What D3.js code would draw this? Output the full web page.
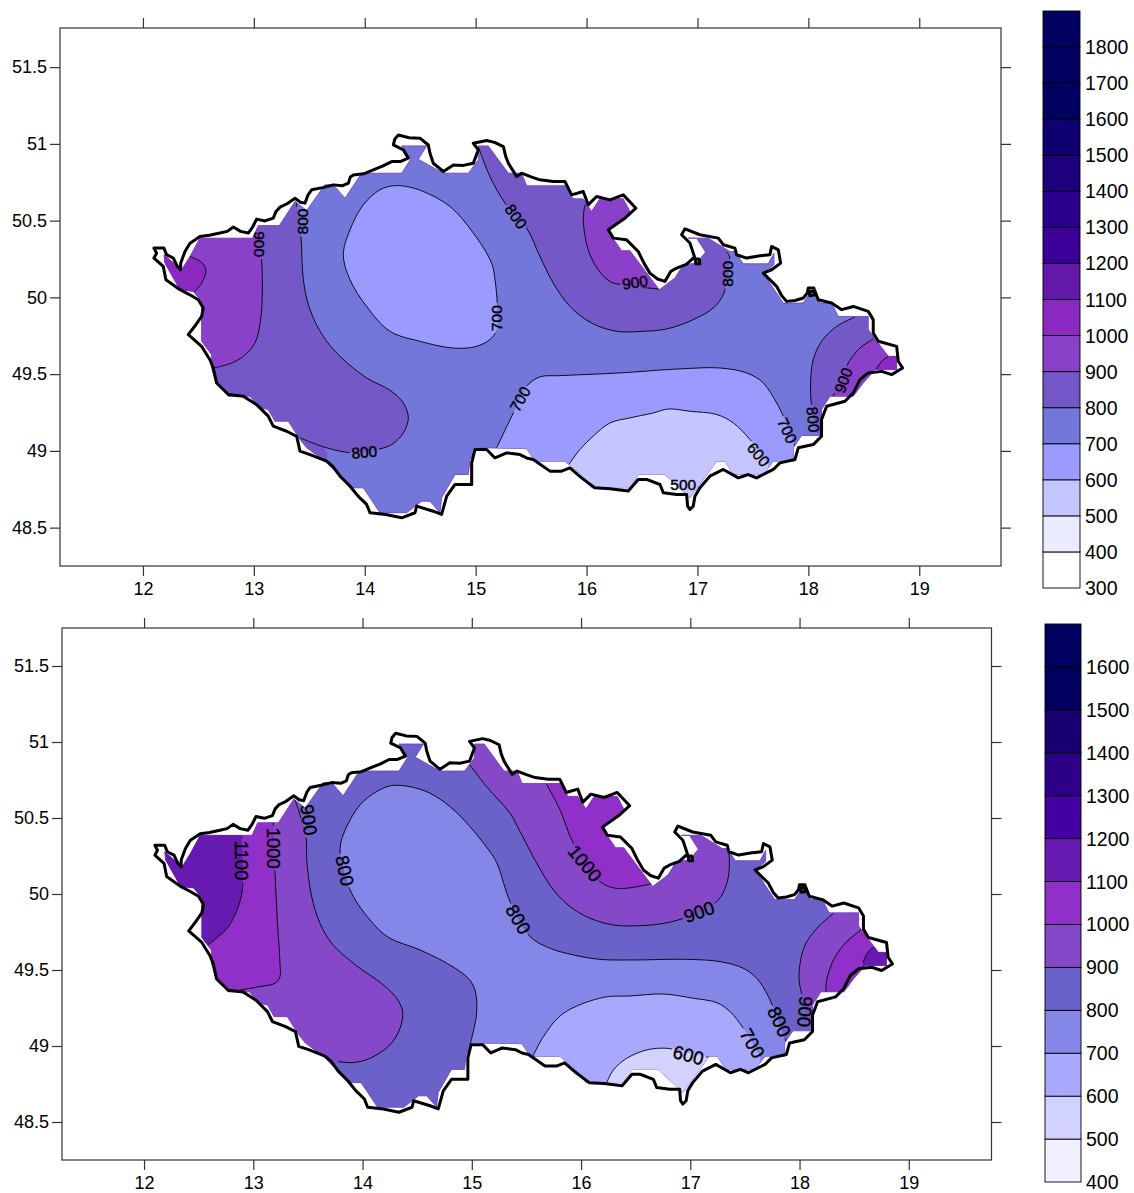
<!DOCTYPE html>
<html><head><meta charset="utf-8">
<script src="https://cdn.jsdelivr.net/npm/d3@7"></script>
<style>html,body{margin:0;padding:0;background:#fff}svg{display:block}text{font-family:"Liberation Sans",Arial,sans-serif;fill:#000}</style>
</head><body><svg id="c" width="1134" height="1193"></svg>
<script>
// Geographic outline of the country, [lon, lat]
const border=[[12.099,50.321],[12.189,50.321],[12.213,50.278],[12.274,50.256],[12.310,50.202],[12.340,50.180],[12.340,50.223],[12.379,50.299],[12.424,50.353],[12.514,50.397],[12.600,50.405],[12.694,50.419],[12.760,50.430],[12.815,50.458],[12.880,50.430],[12.950,50.419],[12.990,50.460],[13.025,50.510],[13.100,50.498],[13.175,50.516],[13.200,50.560],[13.236,50.588],[13.300,50.610],[13.371,50.646],[13.420,50.620],[13.461,50.614],[13.490,50.670],[13.521,50.701],[13.620,50.715],[13.717,50.733],[13.800,50.728],[13.852,50.744],[13.870,50.785],[13.897,50.798],[13.990,50.805],[14.077,50.831],[14.160,50.855],[14.243,50.885],[14.320,50.885],[14.393,50.907],[14.348,50.961],[14.258,50.993],[14.270,51.030],[14.303,51.058],[14.400,51.040],[14.498,51.037],[14.573,50.993],[14.588,50.939],[14.618,50.874],[14.709,50.820],[14.799,50.863],[14.890,50.860],[14.979,50.874],[15.024,50.961],[14.979,51.004],[15.099,51.022],[15.170,51.010],[15.250,50.982],[15.270,50.920],[15.295,50.874],[15.370,50.787],[15.414,50.809],[15.500,50.785],[15.579,50.766],[15.700,50.755],[15.805,50.755],[15.865,50.668],[15.970,50.690],[16.015,50.603],[16.090,50.657],[16.211,50.635],[16.331,50.668],[16.445,50.581],[16.346,50.516],[16.196,50.440],[16.241,50.386],[16.361,50.375],[16.466,50.299],[16.520,50.220],[16.571,50.158],[16.640,50.120],[16.707,50.104],[16.760,50.170],[16.812,50.191],[16.900,50.215],[16.962,50.256],[17.016,50.249],[17.022,50.219],[16.986,50.219],[16.977,50.256],[16.932,50.354],[16.857,50.408],[16.887,50.447],[17.022,50.408],[17.188,50.386],[17.233,50.343],[17.338,50.321],[17.353,50.278],[17.443,50.256],[17.550,50.270],[17.653,50.278],[17.669,50.332],[17.729,50.310],[17.750,50.223],[17.669,50.180],[17.593,50.158],[17.714,50.072],[17.760,50.010],[17.804,49.974],[17.880,49.980],[17.954,49.996],[17.990,50.028],[17.999,50.061],[18.050,50.061],[18.059,50.017],[18.014,50.011],[18.008,50.039],[18.059,50.043],[18.089,49.985],[18.210,49.963],[18.300,49.920],[18.405,49.941],[18.540,49.909],[18.585,49.855],[18.585,49.768],[18.630,49.714],[18.796,49.681],[18.811,49.584],[18.850,49.540],[18.751,49.497],[18.661,49.518],[18.540,49.508],[18.465,49.464],[18.405,49.378],[18.330,49.323],[18.165,49.291],[18.119,49.204],[18.119,49.095],[18.044,49.041],[17.909,49.020],[17.879,48.944],[17.744,48.922],[17.684,48.879],[17.533,48.824],[17.458,48.846],[17.368,48.824],[17.233,48.879],[17.112,48.835],[17.022,48.759],[16.977,48.705],[16.962,48.640],[16.932,48.618],[16.911,48.640],[16.902,48.716],[16.812,48.716],[16.692,48.727],[16.662,48.781],[16.541,48.814],[16.466,48.814],[16.376,48.738],[16.211,48.753],[16.075,48.759],[15.955,48.824],[15.850,48.889],[15.775,48.868],[15.670,48.868],[15.519,48.944],[15.460,48.954],[15.399,48.976],[15.280,48.987],[15.174,48.954],[15.099,49.009],[14.994,49.009],[14.964,48.922],[14.964,48.781],[14.814,48.781],[14.739,48.705],[14.693,48.586],[14.618,48.607],[14.468,48.640],[14.453,48.597],[14.333,48.564],[14.190,48.585],[14.047,48.597],[14.017,48.651],[13.940,48.705],[13.867,48.770],[13.777,48.835],[13.710,48.900],[13.656,48.933],[13.506,48.976],[13.416,48.998],[13.386,49.095],[13.296,49.128],[13.175,49.161],[13.130,49.226],[13.025,49.301],[12.905,49.356],[12.770,49.367],[12.664,49.442],[12.634,49.540],[12.604,49.594],[12.529,49.681],[12.409,49.757],[12.470,49.815],[12.529,49.876],[12.544,49.931],[12.499,49.985],[12.415,50.020],[12.334,50.050],[12.207,50.115],[12.183,50.202],[12.099,50.256],[12.123,50.288]];
// Blanked (stair-stepped) data area
const dataArea=[[12.189,50.278],[12.349,50.180],[12.424,50.267],[12.514,50.386],[12.989,50.386],[13.040,50.468],[13.230,50.468],[13.371,50.625],[13.476,50.566],[13.641,50.733],[13.717,50.733],[13.822,50.646],[13.972,50.809],[14.333,50.809],[14.414,50.900],[14.333,50.987],[14.558,50.987],[14.483,50.900],[14.709,50.809],[14.934,50.809],[15.024,50.896],[15.024,50.987],[15.114,50.987],[15.295,50.809],[15.415,50.809],[15.460,50.727],[15.805,50.727],[15.880,50.642],[15.970,50.642],[16.045,50.560],[16.120,50.642],[16.331,50.642],[16.391,50.560],[16.196,50.429],[16.316,50.304],[16.391,50.304],[16.656,50.050],[16.797,50.126],[16.872,50.213],[16.992,50.223],[17.073,50.295],[16.992,50.386],[16.917,50.386],[17.097,50.386],[17.293,50.299],[17.338,50.299],[17.413,50.219],[17.638,50.219],[17.690,50.288],[17.690,50.213],[17.593,50.158],[17.774,49.963],[17.954,49.963],[18.029,50.046],[18.104,49.963],[18.210,49.963],[18.270,49.876],[18.540,49.876],[18.540,49.790],[18.630,49.703],[18.721,49.616],[18.796,49.616],[18.796,49.529],[18.601,49.529],[18.495,49.443],[18.405,49.356],[18.195,49.356],[18.119,49.269],[18.119,49.100],[17.939,49.100],[17.864,49.020],[17.864,48.933],[17.684,48.933],[17.593,48.846],[17.323,48.846],[17.248,48.933],[17.173,48.933],[16.932,48.694],[16.707,48.846],[16.466,48.846],[16.391,48.759],[16.045,48.759],[15.955,48.846],[15.805,48.933],[15.534,48.933],[15.459,49.015],[15.003,49.020],[14.949,48.944],[14.934,48.846],[14.814,48.846],[14.693,48.694],[14.678,48.597],[14.588,48.672],[14.513,48.672],[14.378,48.597],[14.137,48.597],[13.987,48.759],[13.882,48.759],[13.641,48.933],[13.476,49.020],[13.416,49.074],[13.311,49.193],[13.190,49.193],[13.130,49.269],[13.055,49.280],[12.965,49.356],[12.770,49.356],[12.649,49.464],[12.619,49.540],[12.619,49.627],[12.529,49.714],[12.529,49.974],[12.454,50.039],[12.334,50.050],[12.198,50.223]];

// Tick values
const lonTicks=[12,13,14,15,16,17,18,19];
const latTicks=[48.5,49,49.5,50,50.5,51,51.5];

// Top map: colour bar
const barLevelsA=[300,400,500,600,700,800,900,1000,1100,1200,1300,1400,1500,1600,1700,1800,1900];
const barColorsA=["#ffffff","#ebebff","#c5c5ff","#9a9aff","#7377d9","#7558c8","#8a40c8","#8a28c0","#6318aa","#3c0098","#28008c","#1c007c","#0e0070","#000060","#000060","#000060"];
// Bottom map: colour bar
const barLevelsB=[400,500,600,700,800,900,1000,1100,1200,1300,1400,1500,1600,1700];
const barColorsB=["#f0f0ff","#d2d2ff","#a8a8ff","#8486e8","#6a62c8","#8448c8","#9030c8","#661ab0","#4400a0","#2c0088","#180070","#000060","#000060"];

// Top map isolines: isoline points, then closing points outside the country
const a1000W=[[12.424,50.267],[12.529,50.228],[12.568,50.176],[12.529,50.093],[12.463,50.035]];
const a1000Wc=[[12.153,50.028],[12.153,50.332]];
const a900W=[[13.040,50.440],[13.070,50.245],[13.076,50.028],[13.061,49.855],[13.010,49.703],[12.905,49.616],[12.785,49.568],[12.634,49.540]];
const a900Wc=[[12.27,49.42],[12.12,50.50],[13.04,50.61]];
const a800W=[[13.380,50.635],[13.425,50.397],[13.446,50.115],[13.506,49.920],[13.626,49.746],[13.777,49.616],[14.017,49.475],[14.228,49.395],[14.348,49.312],[14.393,49.215],[14.348,49.117],[14.243,49.041],[14.137,49.013],[13.897,48.987],[13.656,49.020],[13.416,49.085]];
const a800Wc=[[13.386,48.965],[12.27,48.987],[12.12,50.722],[13.380,50.722]];
const a800patch=[[13.416,49.085],[13.644,49.017],[13.644,48.922],[13.416,48.922]];
const a700N=[[14.258,50.727],[14.137,50.701],[13.987,50.603],[13.867,50.440],[13.807,50.278],[13.867,50.115],[14.017,49.941],[14.228,49.779],[14.498,49.714],[14.799,49.670],[15.009,49.681],[15.144,49.735],[15.189,49.790],[15.195,49.952],[15.174,50.115],[15.144,50.223],[14.979,50.419],[14.769,50.592],[14.528,50.690],[14.378,50.722]];
const a800NE=[[15.024,50.982],[15.129,50.787],[15.265,50.614],[15.460,50.451],[15.579,50.267],[15.700,50.093],[15.850,49.941],[16.045,49.833],[16.271,49.779],[16.511,49.779],[16.722,49.794],[16.962,49.855],[17.143,49.931],[17.233,50.017],[17.269,50.137],[17.293,50.256],[17.263,50.299]];
const a800NEc=[[17.263,50.55],[16.6,50.92],[15.024,51.156]];
const a900N=[[15.985,50.603],[15.970,50.505],[16.015,50.310],[16.105,50.180],[16.211,50.104],[16.316,50.082],[16.662,50.054]];
const a900Nc=[[16.81,50.22],[16.6,50.766],[15.985,50.766]];
const a700S=[[15.189,49.020],[15.340,49.247],[15.460,49.421],[15.579,49.482],[15.760,49.490],[16.301,49.508],[16.842,49.534],[17.203,49.540],[17.443,49.508],[17.593,49.443],[17.714,49.312],[17.774,49.226],[17.879,49.030]];
const a700Sc=[[17.879,48.6],[15.189,48.6]];
const a600S=[[15.829,48.900],[15.940,49.009],[16.060,49.096],[16.211,49.182],[16.391,49.215],[16.601,49.247],[16.737,49.273],[16.932,49.258],[17.173,49.237],[17.323,49.182],[17.473,49.074],[17.639,48.911]];
const a600Sc=[[17.639,48.6],[15.829,48.6]];
const a800E=[[18.420,49.872],[18.255,49.811],[18.119,49.714],[18.044,49.594],[18.020,49.443],[18.029,49.291],[18.074,49.128]];
const a800Ec=[[18.3,48.9],[19,49.3],[19,49.9]];
const a900E=[[18.585,49.729],[18.465,49.670],[18.360,49.573],[18.240,49.378],[18.180,49.334]];
const a900Ec=[[18.3,49.2],[19,49.4],[19,49.75]];
const a1000E=[[18.721,49.616],[18.661,49.584],[18.610,49.529]];
const a1000Ec=[[18.7,49.4],[19,49.4],[19,49.7]];
const labelsA=[[900,13.055,50.347,90],[800,13.437,50.494,-90],[800,15.364,50.527,55],[700,15.183,49.865,-90],[900,16.436,50.098,-8],[800,17.269,50.154,-90],[700,15.400,49.338,-60],[800,13.996,48.993,-5],[900,18.315,49.460,-70],[800,18.044,49.204,85],[700,17.810,49.132,65],[600,17.551,48.976,50],[500,16.872,48.781,0]];

// Bottom map isolines
const b1100W=[[12.894,50.377],[12.903,50.048],[12.863,49.917],[12.772,49.785],[12.680,49.720],[12.588,49.665]];
const b1100Wc=[[12.0,49.665],[12.0,50.5],[12.894,50.5]];
const b1000W=[[13.183,50.476],[13.199,50.136],[13.220,49.829],[13.244,49.544],[13.244,49.456],[13.199,49.413],[13.061,49.391],[12.802,49.358]];
const b1000Wc=[[12.573,49.281],[12.0,49.4],[12.0,50.6],[13.183,50.6]];
const b900W=[[13.382,50.619],[13.482,50.377],[13.489,50.224],[13.534,49.983],[13.611,49.807],[13.717,49.676],[13.916,49.544],[14.190,49.402],[14.312,49.314],[14.367,49.226],[14.343,49.116],[14.251,49.007],[14.068,48.919],[13.916,48.891],[13.778,48.897]];
const b900Wc=[[13.49,48.73],[12.0,49.0],[12.0,50.8],[13.382,50.8]];
const b800M=[[14.983,49.007],[15.044,49.215],[15.029,49.369],[14.968,49.445],[14.800,49.533],[14.526,49.632],[14.236,49.715],[14.068,49.829],[13.916,49.983],[13.855,50.092],[13.794,50.301],[13.855,50.443],[13.977,50.586],[14.129,50.674],[14.266,50.713],[14.434,50.706],[14.617,50.663],[14.800,50.575],[14.983,50.443],[15.197,50.246],[15.243,50.180],[15.350,49.950],[15.533,49.720],[15.717,49.643],[15.930,49.599],[16.174,49.570],[16.479,49.566],[16.968,49.570],[17.273,49.555],[17.486,49.511],[17.608,49.445],[17.715,49.325],[17.883,49.018]];
const b800Mc=[[17.883,48.6],[14.983,48.6]];
const b700S=[[15.558,48.930],[15.656,49.062],[15.839,49.215],[16.205,49.320],[16.449,49.329],[16.754,49.342],[17.029,49.314],[17.242,49.285],[17.364,49.226],[17.486,49.116],[17.639,48.930]];
const b700Sc=[[17.639,48.6],[15.558,48.6]];
const b600S=[[16.235,48.759],[16.296,48.842],[16.418,48.919],[16.601,48.974],[16.784,48.985],[16.998,48.952],[17.166,48.926]];
const b600Sc=[[17.166,48.6],[16.235,48.6]];
const b900NE=[[14.983,50.849],[15.136,50.706],[15.350,50.531],[15.442,50.410],[15.595,50.202],[15.747,50.027],[15.900,49.917],[16.083,49.840],[16.296,49.796],[16.479,49.790],[16.723,49.803],[16.937,49.840],[17.242,49.950],[17.334,50.070],[17.358,50.202],[17.343,50.323]];
const b900NEc=[[17.343,50.6],[16.8,51],[14.983,51.15]];
const b1000NE=[[15.680,50.728],[15.808,50.553],[15.930,50.334],[16.174,50.081],[16.327,50.037],[16.510,50.048],[16.647,50.070],[16.800,50.132]];
const b1000NEc=[[16.876,50.268],[16.662,50.816],[15.680,50.816]];
const b900E=[[18.310,49.873],[18.158,49.774],[18.051,49.665],[18.005,49.544],[17.999,49.413],[18.127,49.105]];
const b900Ec=[[18.3,48.9],[19,49.3],[19,49.9]];
const b1000E=[[18.569,49.768],[18.417,49.676],[18.310,49.566],[18.249,49.435],[18.240,49.358]];
const b1000Ec=[[18.24,49.2],[19,49.3],[19,49.8]];
const b1100E=[[18.691,49.654],[18.630,49.621],[18.579,49.549]];
const b1100Ec=[[18.6,49.4],[19,49.4],[19,49.7]];
const labelsB=[[1100,12.894,50.220,90],[1000,13.183,50.301,90],[900,13.510,50.487,82],[800,13.839,50.154,78],[800,15.426,49.834,60],[1000,16.037,50.202,50],[900,17.080,49.884,-20],[800,17.816,49.160,65],[900,18.051,49.226,95],[700,17.569,49.018,60],[600,16.983,48.941,15]];

const svg=d3.select("#c");
function panel(o){
  const x=d3.scaleLinear().domain(o.lon).range([o.box[0],o.box[1]]);
  const y=d3.scaleLinear().domain(o.lat).range([o.box[3],o.box[2]]);
  const line=d3.line().x(d=>x(d[0])).y(d=>y(d[1])).curve(d3.curveCatmullRom.alpha(.5));
  const closedLine=d3.line().x(d=>x(d[0])).y(d=>y(d[1])).curve(d3.curveCatmullRomClosed.alpha(.5));
  const poly=d3.line().x(d=>x(d[0])).y(d=>y(d[1]));
  const defs=svg.append("defs");
  defs.append("clipPath").attr("id",o.id+"clip").append("path").attr("d",poly(dataArea)+"Z");
  const m=defs.append("mask").attr("id",o.id+"mask").attr("maskUnits","userSpaceOnUse")
    .attr("x",0).attr("y",0).attr("width",1134).attr("height",1193);
  m.append("rect").attr("width",1134).attr("height",1193).attr("fill","#fff");
  const fs=o.labelSize;
  o.labels.forEach(l=>{
    const w=String(l[0]).length*fs*.556+4,h=fs*.8;
    m.append("rect").attr("x",-w/2).attr("y",-h/2).attr("width",w).attr("height",h).attr("fill","#000")
      .attr("transform",`translate(${x(l[1])},${y(l[2])}) rotate(${l[3]})`);
  });
  svg.append("path").attr("d",poly(dataArea)+"Z").attr("fill",o.base).attr("stroke","#7a30c8").attr("stroke-width",.8);
  const g=svg.append("g").attr("clip-path",`url(#${o.id}clip)`);
  o.bands.forEach(b=>{
    const d=b.closed?closedLine(b.pts):line(b.pts)+(b.close?b.close.map(p=>`L${x(p[0])},${y(p[1])}`).join(""):"")+"Z";
    g.append("path").attr("d",d).attr("fill",b.color);
  });
  const lg=g.append("g").attr("mask",`url(#${o.id}mask)`);
  o.bands.filter(b=>!b.noline).forEach(b=>{
    lg.append("path").attr("d",b.closed?closedLine(b.pts):line(b.pts)).attr("fill","none").attr("stroke","#000").attr("stroke-width",.9);
  });
  const ax=svg.append("g").attr("color","#333");
  const add=(axis,tr,fmt,pad)=>{
    const a=ax.append("g").attr("transform",tr).call(axis.tickSize(10).tickPadding(pad).tickFormat(fmt));
    a.select(".domain").remove();
    a.selectAll("line").attr("stroke-width",1.2);
    a.selectAll("text").attr("font-size",o.tickSize).attr("font-family",'"Liberation Sans",Arial,sans-serif').attr("fill","#000");
  };
  const f=d=>String(d),none=()=>"";
  add(d3.axisBottom(x).tickValues(lonTicks),`translate(0,${o.box[3]})`,f,6);
  add(d3.axisTop(x).tickValues(lonTicks),`translate(0,${o.box[2]})`,none,6);
  add(d3.axisLeft(y).tickValues(latTicks),`translate(${o.box[0]},0)`,f,3);
  add(d3.axisRight(y).tickValues(latTicks),`translate(${o.box[1]},0)`,none,3);
  svg.append("rect").attr("x",o.box[0]).attr("y",o.box[2]).attr("width",o.box[1]-o.box[0]).attr("height",o.box[3]-o.box[2])
    .attr("fill","none").attr("stroke","#333").attr("stroke-width",1.2);
  svg.append("path").attr("d",poly(border)+"Z").attr("fill","none").attr("stroke","#000").attr("stroke-width",3).attr("stroke-linejoin","round");
  svg.append("g").selectAll("text").data(o.labels).join("text")
    .attr("transform",d=>`translate(${x(d[1])},${y(d[2])}) rotate(${d[3]})`)
    .attr("text-anchor","middle").attr("dy",".36em").attr("font-size",fs).attr("stroke","#000").attr("stroke-width",.4)
    .text(d=>d[0]);
  const cb=d3.scaleLinear().domain(d3.extent(o.barLevels)).range([o.bar[3],o.bar[2]]);
  const cg=svg.append("g");
  o.barColors.forEach((c,i)=>{
    cg.append("rect").attr("x",o.bar[0]).attr("width",o.bar[1]-o.bar[0])
      .attr("y",cb(o.barLevels[i+1])).attr("height",cb(o.barLevels[i])-cb(o.barLevels[i+1]))
      .attr("fill",c).attr("stroke","#000").attr("stroke-width",.9);
  });
  cg.selectAll("text").data(o.barLevels.slice(0,-1)).join("text")
    .attr("x",o.bar[1]+5).attr("y",d=>cb(d)).attr("dy",".36em").attr("font-size",o.barFont).text(d=>d);
}
panel({id:"a",lon:[11.252,19.737],lat:[48.25,51.755],box:[60,1001,28,566],tickSize:18,labelSize:15.5,base:"#7377d9",
 barLevels:barLevelsA,barColors:barColorsA,bar:[1043,1080,11,588],barFont:19.5,labels:labelsA,
 bands:[
  {color:"#7558c8",pts:a800W,close:a800Wc},
  {color:"#7558c8",pts:a800patch,noline:true},
  {color:"#8a40c8",pts:a900W,close:a900Wc},
  {color:"#8a28c0",pts:a1000W,close:a1000Wc},
  {color:"#9a9aff",pts:a700N,closed:true},
  {color:"#7558c8",pts:a800NE,close:a800NEc},
  {color:"#8a40c8",pts:a900N,close:a900Nc},
  {color:"#9a9aff",pts:a700S,close:a700Sc},
  {color:"#c5c5ff",pts:a600S,close:a600Sc},
  {color:"#7558c8",pts:a800E,close:a800Ec},
  {color:"#8a40c8",pts:a900E,close:a900Ec},
  {color:"#8a28c0",pts:a1000E,close:a1000Ec}
 ]});
panel({id:"b",lon:[11.249,19.757],lat:[48.25,51.75],box:[62,991.5,628,1160],tickSize:18,labelSize:18.5,base:"#6a62c8",
 barLevels:barLevelsB,barColors:barColorsB,bar:[1045,1081,624,1182],barFont:19.5,labels:labelsB,
 bands:[
  {color:"#8448c8",pts:b900W,close:b900Wc},
  {color:"#9030c8",pts:b1000W,close:b1000Wc},
  {color:"#661ab0",pts:b1100W,close:b1100Wc},
  {color:"#8486e8",pts:b800M,close:b800Mc},
  {color:"#a8a8ff",pts:b700S,close:b700Sc},
  {color:"#d2d2ff",pts:b600S,close:b600Sc},
  {color:"#8448c8",pts:b900NE,close:b900NEc},
  {color:"#9030c8",pts:b1000NE,close:b1000NEc},
  {color:"#8448c8",pts:b900E,close:b900Ec},
  {color:"#9030c8",pts:b1000E,close:b1000Ec},
  {color:"#661ab0",pts:b1100E,close:b1100Ec}
 ]});
</script></body></html>
